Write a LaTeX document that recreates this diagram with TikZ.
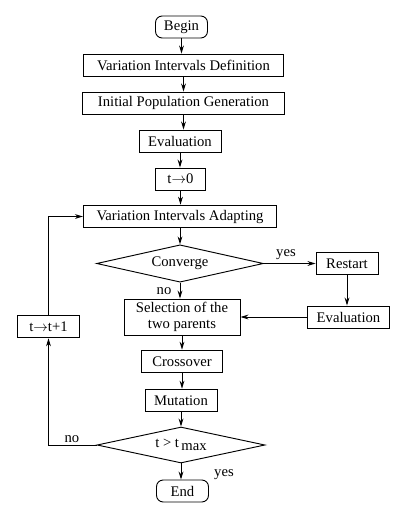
\documentclass[tikz,border=0pt]{standalone}
\usepackage{fontspec}
\setmainfont{Liberation Serif}
\usetikzlibrary{
    arrows.meta,
    shapes.geometric,
    positioning
}

\begin{document}
\begin{tikzpicture}[x=0.75pt, y=-0.75pt, >={Stealth[length=6pt,width=3.6pt]}, line width=0.7pt,
    every node/.style={font=\fontsize{11}{12.5}\selectfont},
    stepbox/.style={draw, inner sep=0pt, minimum height=16.5pt},
    termbox/.style={stepbox, rounded corners=5pt},
    testbox/.style={draw, diamond, aspect=5, inner sep=0pt}]
                                \useasboundingbox (0,0) rectangle (404,515);
                                \node[termbox, minimum width=39pt] (begin) at (181.5, 27) {Begin};
                                \node[stepbox, minimum width=150pt] (vid) at (183.5, 65) {Variation Intervals Definition};
                                \node[stepbox, minimum width=151pt] (ipg) at (183.5, 103) {Initial Population Generation};
                                \node[stepbox, minimum width=61.5pt] (eval) at (180, 141) {Evaluation};
                                \node[stepbox, minimum width=37pt] (tzero) at (180.5, 179) {t$\rightarrow$0};
                                \node[stepbox, minimum width=145pt, minimum height=17pt] (via) at (180, 216.5) {Variation Intervals Adapting};
                                \node[testbox, minimum width=125pt, minimum height=28pt] (conv) at (180, 263.5) {Converge};
                                \node[stepbox, minimum width=46.5pt, minimum height=17pt] (restart) at (347, 263.5) {Restart};
                                \node[stepbox, minimum width=62pt] (evalb) at (348.5, 317) {Evaluation};
                                \node[stepbox, minimum width=87pt, minimum height=27pt, align=center] (sel) at (182, 317) {Selection of the\\two parents};
                                \node[stepbox, minimum width=46pt, minimum height=17pt] (tinc) at (48.5, 326.5) {t$\rightarrow$t+1};
                                \node[stepbox, minimum width=61pt, minimum height=17pt] (cross) at (182, 361.5) {Crossover};
                                \node[stepbox, minimum width=54pt, minimum height=17pt] (mut) at (181, 400.5) {Mutation};
                                \node[testbox, minimum width=126pt, minimum height=27pt] (tmax) at (181, 445) {t > t\,\raisebox{-0.5ex}{max}};
                                \node[termbox, minimum width=39pt] (end) at (182.5, 491) {End};
                                \node (yesa) at (286, 255) {yes};
                                \node (noa) at (164, 291) {no};
                                \node (nob) at (72, 439) {no};
                                \node (yesb) at (224, 475) {yes};
                                \draw[->] (begin.south) -- (begin.south |- vid.north);
                                \draw[->] (vid.south) -- (vid.south |- ipg.north);
                                \draw[->] (ipg.south) -- (ipg.south |- eval.north);
                                \draw[->] (eval.south) -- (eval.south |- tzero.north);
                                \draw[->] (tzero.south) -- (tzero.south |- via.north);
                                \draw[->] (via.south) -- (via.south |- conv.north);
                                \draw[->] (conv.south) -- (conv.south |- sel.north);
                                \draw[->] (conv.east) -- (restart.west);
                                \draw[->] (restart.south) -- (restart.south |- evalb.north);
                                \draw[->] (evalb.west) -- (sel.east);
                                \draw[->] (sel.south) -- (sel.south |- cross.north);
                                \draw[->] (cross.south) -- (cross.south |- mut.north);
                                \draw[->] (mut.south) -- (mut.south |- tmax.north);
                                \draw[->] (tmax.south) -- (tmax.south |- end.north);
                                \draw[->] (tmax.west) -| (tinc.south);
                                \draw[->] (tinc.north) |- (via.west);
                            \end{tikzpicture}
\end{document}
